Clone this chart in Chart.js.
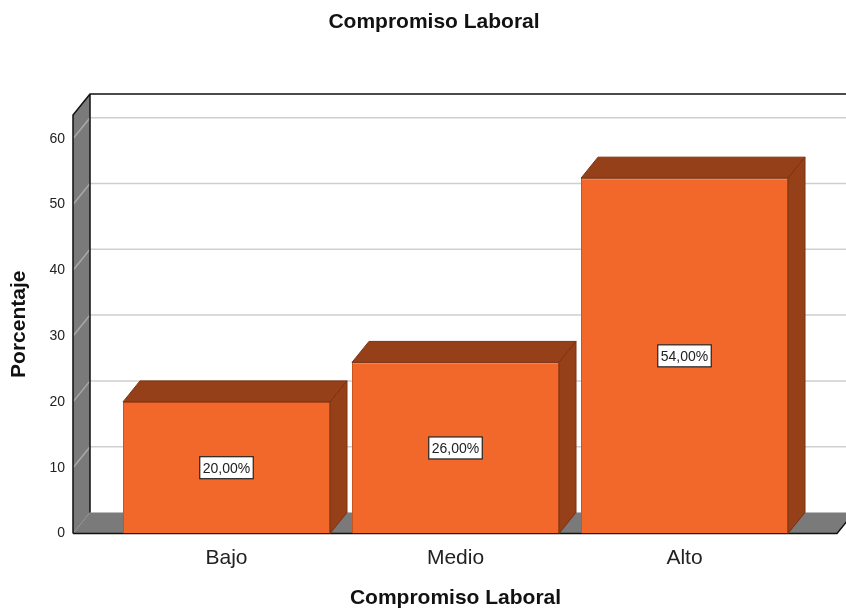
<!DOCTYPE html>
<html>
<head>
<meta charset="utf-8">
<title>Compromiso Laboral</title>
<script src="https://cdn.jsdelivr.net/npm/chart.js@4/dist/chart.umd.min.js"></script>
<style>
  html, body { margin: 0; padding: 0; background: #fff; }
  #wrap { width: 846px; height: 609px; }
</style>
</head>
<body>
<div id="wrap"><canvas id="compromisoChart"></canvas></div>
<script>
// categorias y porcentajes
const categorias = ['Bajo', 'Medio', 'Alto'];
const porcentajes = [20, 26, 54];
const etiquetas = ['20,00%', '26,00%', '54,00%'];
const yTicks = [0, 10, 20, 30, 40, 50, 60];
const yMax = 63.6;

const FONT = "'Liberation Sans', Arial, sans-serif";
const DX = 17, DY = 21;          // profundidad del efecto 3D
const WALL_PAD_L = 39, WALL_PAD_R = 38;

const naranja = '#f2672a';
const marron = '#96401a';
const gris = '#7a7a7a';

// paredes, suelo y rejilla detras de las barras
const fondo3d = {
    id: 'fondo3d',
    beforeDatasetsDraw(chart) {
        const { ctx, chartArea: a, scales: { y } } = chart;
        const fl = a.left - WALL_PAD_L, fr = a.right + WALL_PAD_R;
        const top = y.getPixelForValue(yMax), bot = y.getPixelForValue(0);
        ctx.save();
        // pared del fondo
        ctx.fillStyle = '#fff';
        ctx.fillRect(fl + DX, top - DY, chart.width, bot - top);
        // panel izquierdo
        ctx.beginPath();
        ctx.moveTo(fl, top); ctx.lineTo(fl + DX, top - DY);
        ctx.lineTo(fl + DX, bot - DY); ctx.lineTo(fl, bot);
        ctx.closePath();
        ctx.fillStyle = gris; ctx.fill();
        // suelo
        ctx.beginPath();
        ctx.moveTo(fl, bot); ctx.lineTo(fl + DX, bot - DY);
        ctx.lineTo(fr + DX, bot - DY); ctx.lineTo(fr, bot);
        ctx.closePath();
        ctx.fillStyle = gris; ctx.fill();
        // rejilla
        ctx.lineWidth = 1.5;
        yTicks.forEach(v => {
            if (v === 0) return;
            const py = y.getPixelForValue(v);
            ctx.strokeStyle = '#cfcfcf';
            ctx.beginPath();
            ctx.moveTo(fl + DX, py - DY); ctx.lineTo(chart.width, py - DY);
            ctx.stroke();
            ctx.strokeStyle = '#a8a8a8';
            ctx.beginPath();
            ctx.moveTo(fl, py); ctx.lineTo(fl + DX, py - DY);
            ctx.stroke();
        });
        // bordes
        ctx.strokeStyle = '#111';
        ctx.lineWidth = 1.5;
        ctx.beginPath();
        ctx.moveTo(fl, bot); ctx.lineTo(fl, top); ctx.lineTo(fl + DX, top - DY);
        ctx.lineTo(chart.width, top - DY);
        ctx.moveTo(fl + DX, top - DY); ctx.lineTo(fl + DX, bot - DY);
        ctx.moveTo(fl, bot); ctx.lineTo(fr, bot); ctx.lineTo(fr + DX, bot - DY);
        ctx.stroke();
        ctx.restore();
    },
    afterDatasetsDraw(chart) {
        const { ctx } = chart;
        const meta = chart.getDatasetMeta(0);
        ctx.save();
        meta.data.forEach((bar, i) => {
            const x0 = bar.x - bar.width / 2, x1 = bar.x + bar.width / 2;
            const t = bar.y, b = bar.base;
            ctx.fillStyle = marron;
            ctx.strokeStyle = '#7a3212';
            ctx.lineWidth = 1;
            // cara superior
            ctx.beginPath();
            ctx.moveTo(x0, t); ctx.lineTo(x0 + DX, t - DY);
            ctx.lineTo(x1 + DX, t - DY); ctx.lineTo(x1, t);
            ctx.closePath(); ctx.fill(); ctx.stroke();
            // cara lateral
            ctx.beginPath();
            ctx.moveTo(x1, t); ctx.lineTo(x1 + DX, t - DY);
            ctx.lineTo(x1 + DX, b - DY); ctx.lineTo(x1, b);
            ctx.closePath(); ctx.fill(); ctx.stroke();

            // etiqueta con el porcentaje
            const cy = (t + b) / 2;
            ctx.font = '14px ' + FONT;
            const w = ctx.measureText(etiquetas[i]).width + 6;
            const h = 22;
            ctx.fillStyle = '#fff';
            ctx.fillRect(bar.x - w / 2, cy - h / 2, w, h);
            ctx.strokeStyle = '#222';
            ctx.lineWidth = 1.2;
            ctx.strokeRect(bar.x - w / 2, cy - h / 2, w, h);
            ctx.fillStyle = '#222';
            ctx.textAlign = 'center';
            ctx.textBaseline = 'middle';
            ctx.fillText(etiquetas[i], bar.x, cy + 1);
        });
        ctx.restore();
    },
    afterDraw(chart) {
        const { ctx } = chart;
        ctx.save();
        ctx.font = 'bold 21px ' + FONT;
        ctx.fillStyle = '#111';
        ctx.textAlign = 'center';
        ctx.textBaseline = 'middle';
        ctx.fillText('Compromiso Laboral', 434, 22);
        ctx.restore();
    }
};

const chartData = {
    labels: categorias,
    datasets: [{
        label: 'Porcentaje',
        data: porcentajes,
        backgroundColor: naranja,
        borderColor: '#c9551f',
        borderWidth: 1,
        categoryPercentage: 1,
        barPercentage: 0.904,
    }]
};

const chartConfig = {
    type: 'bar',
    data: chartData,
    plugins: [fondo3d],
    options: {
        responsive: true,
        maintainAspectRatio: false,
        animation: false,
        layout: { padding: { top: 115, right: 47, bottom: 0, left: 0 } },
        plugins: {
            legend: { display: false },
            tooltip: { enabled: false },
        },
        scales: {
            x: {
                grid: { display: false, drawTicks: false },
                border: { display: false },
                ticks: { color: '#222', padding: 12, font: { family: FONT, size: 21 } },
                title: {
                    display: true,
                    text: 'Compromiso Laboral',
                    color: '#111',
                    font: { family: FONT, size: 21, weight: 'bold', lineHeight: 1 },
                    padding: { top: 0, bottom: 0.5 },
                },
                afterFit: s => { s.height = 75.5; },
            },
            y: {
                min: 0,
                max: yMax,
                grid: { display: false, drawTicks: false },
                border: { display: false },
                ticks: { color: '#222', padding: 47, font: { family: FONT, size: 14 } },
                afterBuildTicks: s => { s.ticks = yTicks.map(v => ({ value: v })); },
                title: {
                    display: true,
                    text: 'Porcentaje',
                    color: '#111',
                    font: { family: FONT, size: 21, weight: 'bold' },
                    padding: { top: 7, bottom: 0 },
                },
                afterFit: s => { s.width = 112; },
            }
        }
    }
};

const myChart = new Chart(document.getElementById('compromisoChart'), chartConfig);
</script>
</body>
</html>
